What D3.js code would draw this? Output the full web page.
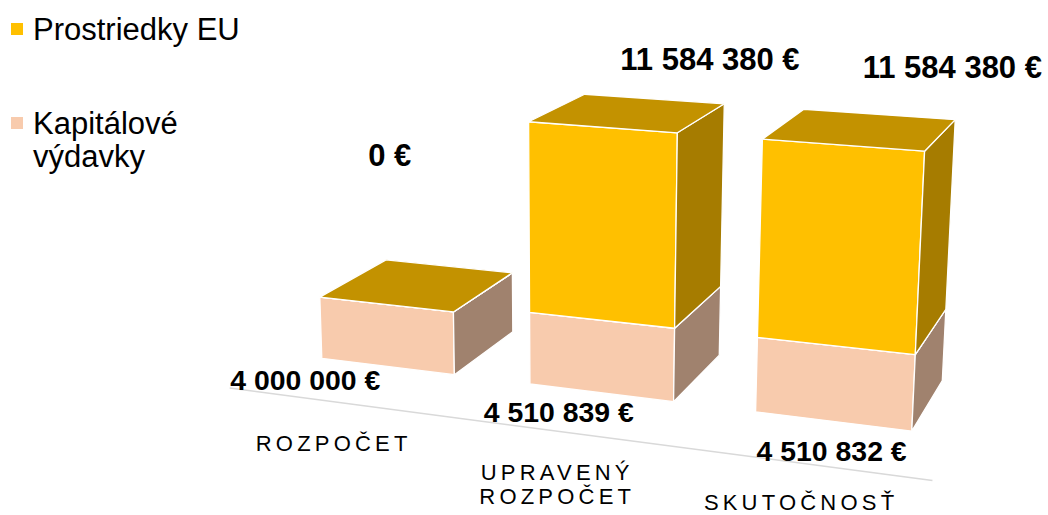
<!DOCTYPE html>
<html>
<head>
<meta charset="utf-8">
<script src="https://cdn.jsdelivr.net/npm/d3@7"></script>
<style>
  html, body { margin: 0; padding: 0; background: #ffffff; }
  svg { display: block; }
</style>
</head>
<body>
<svg id="chart" width="1048" height="515"></svg>
<script>
// ---------- data ----------
const categories = ["ROZPOČET", "UPRAVENÝ ROZPOČET", "SKUTOČNOSŤ"];
const kapitaloveVydavky = [4000000, 4510839, 4510832];
const prostriedkyEU = [0, 11584380, 11584380];
const seriesNames = ["Kapitálové výdavky", "Prostriedky EU"];
const legendOrder = ["Prostriedky EU", "Kapitálové výdavky"];

// ---------- styling ----------
const colors = {
  "Prostriedky EU":     { front: "#FFC000", top: "#C39200", side: "#A67C00", legend: "#FFC000" },
  "Kapitálové výdavky": { front: "#F8CBAD", top: "#C6A28A", side: "#A0826E", legend: "#F8CBAD" }
};

// ---------- perspective camera ----------
const deg = Math.PI / 180;
const cam = { f: 1977.4, px: 568, py: 230, yaw: -20.72 * deg, pitch: 14.38 * deg,
              anchor: [321.7, 358.3], dist: 1000 };
const sT = Math.sin(cam.yaw), cT = Math.cos(cam.yaw), sP = Math.sin(cam.pitch), cP = Math.cos(cam.pitch);
const Rv = [cT, 0, -sT];
const Uv = [sP * sT, cP, sP * cT];
const Fv = [sT * cP, -sP, cT * cP];
const c0 = [(cam.anchor[0] - cam.px) / cam.f * cam.dist, -(cam.anchor[1] - cam.py) / cam.f * cam.dist, cam.dist];
const dot = (a, b) => a[0] * b[0] + a[1] * b[1] + a[2] * b[2];
function project(p) {
  const cx = c0[0] + dot(p, Rv), cy = c0[1] + dot(p, Uv), cz = c0[2] + dot(p, Fv);
  return [cam.px + cam.f * cx / cz, cam.py - cam.f * cy / cz];
}

// ---------- world scales ----------
const x = d3.scaleBand().domain(categories).range([-20, 320]).paddingInner(0.354).paddingOuter(0.177);
const y = d3.scaleLinear().domain([0, 16000000]).range([0, 129]);
const barDepth = 76;
const floorFrontZ = -57;

const table = categories.map((c, i) => ({
  category: c,
  "Kapitálové výdavky": kapitaloveVydavky[i],
  "Prostriedky EU": prostriedkyEU[i]
}));
const stacked = d3.stack().keys(seriesNames)(table);

const locale = d3.formatLocale({ decimal: ",", thousands: " ", grouping: [3], currency: ["", " €"] });
const fmt = locale.format("$,.0f");

const svg = d3.select("#chart");
const line = d3.line();

// floor front edge (category axis)
const [xr0, xr1] = x.range();
svg.append("path")
  .attr("d", line([project([xr0, 0, floorFrontZ]), project([xr1, 0, floorFrontZ])]))
  .attr("stroke", "#d9d9d9").attr("stroke-width", 1.5).attr("fill", "none");

// bars: draw left to right (far to near), bottom to top
const gBars = svg.append("g");
categories.forEach((c, i) => {
  stacked.forEach(s => {
    const d = s[i];
    const x0 = x(c), x1 = x(c) + x.bandwidth();
    const y0 = y(d[0]), y1 = y(d[1]);
    const z0 = 0, z1 = barDepth;
    const col = colors[s.key];
    const faces = [
      { pts: [[x0, y0, z0], [x1, y0, z0], [x1, y1, z0], [x0, y1, z0]], fill: col.front },
      { pts: [[x1, y0, z0], [x1, y0, z1], [x1, y1, z1], [x1, y1, z0]], fill: col.side },
      { pts: [[x0, y1, z0], [x1, y1, z0], [x1, y1, z1], [x0, y1, z1]], fill: col.top }
    ];
    faces.forEach(f => {
      gBars.append("path")
        .attr("d", line(f.pts.map(project)) + "Z")
        .attr("fill", f.fill)
        .attr("stroke", "#ffffff").attr("stroke-width", 1.3)
        .attr("stroke-linejoin", "round");
    });
  });
});

// value labels
const topOffsets = [[4, -138], [108, -57], [110, -67]];
const baseOffsets = [[-82, 24], [-42, 29], [-1, 40]];
categories.forEach((c, i) => {
  const cxm = x(c) + x.bandwidth() / 2;
  const total = kapitaloveVydavky[i] + prostriedkyEU[i];
  const pt = project([cxm, y(total), 0]);
  svg.append("text")
    .attr("x", pt[0] + topOffsets[i][0]).attr("y", pt[1] + topOffsets[i][1])
    .attr("text-anchor", "middle")
    .attr("font-family", "'Liberation Sans', Arial, sans-serif")
    .attr("font-weight", "bold").attr("font-size", 31).attr("fill", "#000")
    .text(fmt(prostriedkyEU[i]));
  const pb = project([cxm, 0, 0]);
  svg.append("text")
    .attr("x", pb[0] + baseOffsets[i][0]).attr("y", pb[1] + baseOffsets[i][1])
    .attr("text-anchor", "middle")
    .attr("font-family", "'Liberation Sans', Arial, sans-serif")
    .attr("font-weight", "bold").attr("font-size", 28).attr("fill", "#000")
    .attr("textLength", 150).attr("lengthAdjust", "spacingAndGlyphs")
    .text(fmt(kapitaloveVydavky[i]));
});

// category labels
categories.forEach((c, i) => {
  const p = project([x(c) + x.bandwidth() / 2, 0, floorFrontZ]);
  const t = svg.append("text")
    .attr("font-family", "'Liberation Sans', Arial, sans-serif")
    .attr("font-size", 22).attr("letter-spacing", 4.2).attr("fill", "#000")
    .attr("text-anchor", "middle");
  c.split(" ").forEach((w, k) => {
    t.append("tspan").attr("x", p[0] - 1).attr("y", Math.min(p[1] + 49 + k * 23.5, 510)).text(w);
  });
});

// legend
const lg = svg.append("g").attr("font-family", "'Liberation Sans', Arial, sans-serif").attr("font-size", 31);
legendOrder.forEach((name, k) => {
  const yy = 29 + k * 94;
  lg.append("rect").attr("x", 11).attr("y", yy - 6).attr("width", 12).attr("height", 12)
    .attr("fill", colors[name].legend);
  const words = name === "Kapitálové výdavky" ? ["Kapitálové", "výdavky"] : [name];
  const t = lg.append("text").attr("fill", "#000");
  words.forEach((w, j) => t.append("tspan").attr("x", 33).attr("y", yy + 11 + j * 32.5).text(w));
});
</script>
</body>
</html>
